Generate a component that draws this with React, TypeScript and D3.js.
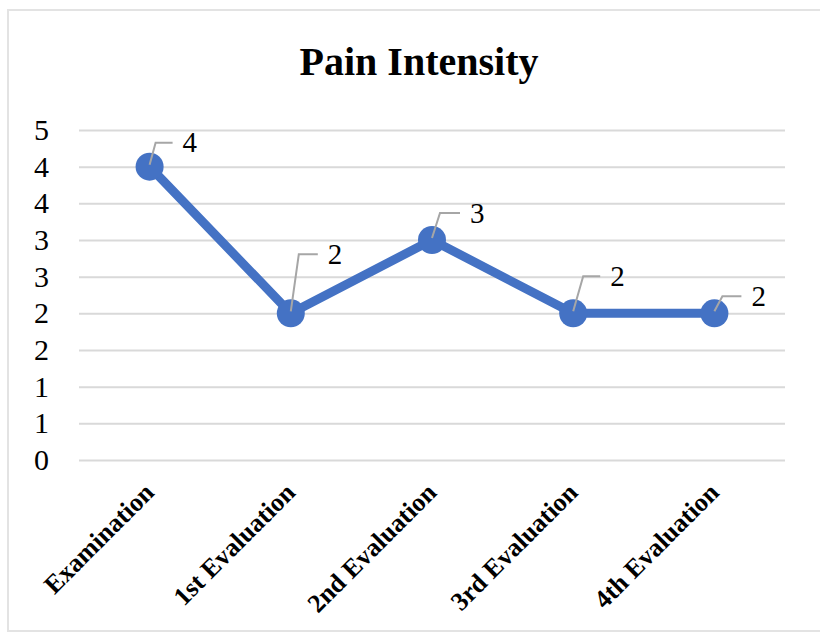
import { useEffect, useRef } from "react";
import * as d3 from "d3";

const categories = [
  "Examination",
  "1st Evaluation",
  "2nd Evaluation",
  "3rd Evaluation",
  "4th Evaluation",
];
const painValues = [4, 2, 3, 2, 2];
const yTicks = [0, 0.5, 1, 1.5, 2, 2.5, 3, 3.5, 4, 4.5];

// leader line layout for each data label: knee offset from the point, then horizontal run
const leaderKnees = [
  { dx: 6, dy: -24, run: 17 },
  { dx: 8, dy: -59, run: 19 },
  { dx: 8, dy: -27, run: 20 },
  { dx: 10, dy: -37, run: 17 },
  { dx: 8, dy: -17, run: 19 },
];

export default function App() {
  const svgRef = useRef<SVGSVGElement>(null);

  useEffect(() => {
    if (!svgRef.current) return;
    const svg = d3.select(svgRef.current);
    const width = 820;
    const height = 633;
    const serif = "'Liberation Serif', 'Times New Roman', serif";

    svg.selectAll("*").remove();
    svg.attr("width", width).attr("height", height);

    // background + light border (no right edge, as in the source)
    svg
      .append("rect")
      .attr("width", width)
      .attr("height", height)
      .attr("fill", "#ffffff");
    svg
      .append("path")
      .attr("d", `M${width},10H8V631H${width}`)
      .attr("fill", "none")
      .attr("stroke", "#e3e3e3")
      .attr("stroke-width", 2);

    const xScale = d3
      .scalePoint<string>()
      .domain(categories)
      .range([79, 785])
      .padding(0.5);

    const yScale = d3.scaleLinear().domain([0, 4.5]).range([460, 130]);

    // Grid lines + y labels
    const yAxis = svg
      .append("g")
      .attr("transform", `translate(79,0)`)
      .call(
        d3
          .axisLeft(yScale)
          .tickValues(yTicks)
          .tickSize(-(785 - 79))
          .tickPadding(30)
          .tickFormat((d) => String(Math.round(+d)))
      );
    yAxis.select(".domain").remove();
    yAxis.attr("font-family", serif).attr("font-size", 30);
    yAxis
      .selectAll(".tick line")
      .attr("stroke", "#d9d9d9")
      .attr("stroke-width", 2);
    yAxis.selectAll(".tick text").attr("fill", "#000000");

    // X labels
    svg
      .append("g")
      .selectAll("text")
      .data(categories)
      .enter()
      .append("text")
      .attr(
        "transform",
        (d) => `translate(${xScale(d)! + 6},494) rotate(-45)`
      )
      .attr("text-anchor", "end")
      .attr("font-family", serif)
      .attr("font-weight", "bold")
      .attr("font-size", 26)
      .attr("fill", "#000000")
      .text((d) => d);

    // Line
    const line = d3
      .line<number>()
      .x((_, i) => xScale(categories[i])!)
      .y((d) => yScale(d));

    svg
      .append("path")
      .datum(painValues)
      .attr("d", line)
      .attr("fill", "none")
      .attr("stroke", "#4472c4")
      .attr("stroke-width", 9)
      .attr("stroke-linejoin", "round");

    svg
      .append("g")
      .selectAll("circle")
      .data(painValues)
      .enter()
      .append("circle")
      .attr("cx", (_, i) => xScale(categories[i])!)
      .attr("cy", (d) => yScale(d))
      .attr("r", 14)
      .attr("fill", "#4472c4");

    // Leader lines + data labels
    const labels = svg.append("g");
    painValues.forEach((v, i) => {
      const px = xScale(categories[i])!;
      const py = yScale(v);
      const k = leaderKnees[i];
      const kx = px + k.dx;
      const ky = py + k.dy;
      labels
        .append("path")
        .attr("d", `M${px},${py - 2}L${kx},${ky}L${kx + k.run},${ky}`)
        .attr("fill", "none")
        .attr("stroke", "#a6a6a6")
        .attr("stroke-width", 2);
      labels
        .append("text")
        .attr("x", kx + k.run + 10)
        .attr("y", ky + 3)
        .attr("dominant-baseline", "middle")
        .attr("font-family", serif)
        .attr("font-size", 29)
        .attr("fill", "#000000")
        .text(String(v));
    });

    // Title
    svg
      .append("text")
      .attr("x", 419)
      .attr("y", 75)
      .attr("text-anchor", "middle")
      .attr("font-family", serif)
      .attr("font-weight", "bold")
      .attr("font-size", 40)
      .attr("fill", "#000000")
      .text("Pain Intensity");
  }, []);

  return (
    <div style={{ position: "fixed", left: 0, top: 0 }}>
      <svg ref={svgRef} style={{ display: "block" }}></svg>
    </div>
  );
}
